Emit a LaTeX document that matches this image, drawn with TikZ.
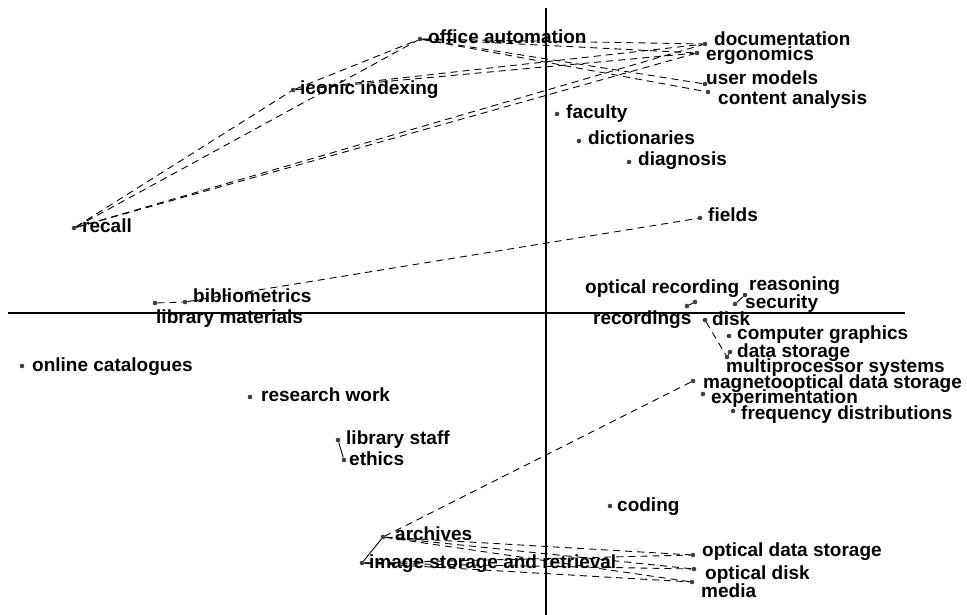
\documentclass[tikz,border=0pt]{standalone}
\usepackage{fontspec}
\setmainfont{Liberation Sans}
\begin{document}
\begin{tikzpicture}[x=1pt,y=-1pt,
  pt/.style={circle,fill=black!75,inner sep=0pt,minimum size=4.6pt},
  lbl/.style={anchor=base west,inner sep=0pt,font=\fontsize{19}{20}\selectfont\bfseries},
  link/.style={line width=0.9pt,dash pattern=on 7pt off 5pt},
  tie/.style={line width=0.9pt},
  axis/.style={line width=1.2pt}]
\useasboundingbox (0,0) rectangle (967,615);

% axes
\coordinate (vtop) at (546,8);
\coordinate (vbot) at (546,615);
\coordinate (hleft) at (8,313);
\coordinate (hright) at (905,313);
\draw[axis] (vtop) -- (vbot);
\draw[axis] (hleft) -- (hright);

% points
\node[pt] (office) at (420,39) {};
\node[pt] (iconic) at (293,90) {};
\node[pt] (recall) at (74,228) {};
\node[pt] (docu) at (705,44) {};
\node[pt] (ergo) at (697,53) {};
\node[pt] (umodels) at (705,84) {};
\node[pt] (content) at (708,92) {};
\node[pt] (faculty) at (557,114) {};
\node[pt] (dict) at (579,141) {};
\node[pt] (diag) at (629,162) {};
\node[pt] (fields) at (700,218) {};
\node[pt] (optrec) at (687,306) {};
\node[pt] (recs) at (695,302) {};
\node[pt] (reason) at (745,295) {};
\node[pt] (secur) at (735,304) {};
\node[pt] (biblio) at (185,302) {};
\node[pt] (libmat) at (155,303) {};
\node[pt] (disk) at (705,320) {};
\node[pt] (cgraph) at (729,336) {};
\node[pt] (dstore) at (730,352) {};
\node[pt] (mproc) at (727,357) {};
\node[pt] (online) at (22,366) {};
\node[pt] (research) at (250,397) {};
\node[pt] (magneto) at (693,381) {};
\node[pt] (experim) at (703,394) {};
\node[pt] (freq) at (733,411) {};
\node[pt] (libstaff) at (338,440) {};
\node[pt] (ethics) at (344,460) {};
\node[pt] (coding) at (610,506) {};
\node[pt] (archives) at (383,537) {};
\node[pt] (imgstore) at (362,563) {};
\node[pt] (ods) at (693,555) {};
\node[pt] (odisk) at (694,569) {};
\node[pt] (media) at (692,582) {};

% labels
\node[lbl] (officeL) at (428,44) {office automation};
\node[lbl] (iconicL) at (300,95) {iconic indexing};
\node[lbl] (recallL) at (82,232) {recall};
\node[lbl] (docuL) at (714,46) {documentation};
\node[lbl] (ergoL) at (706,61) {ergonomics};
\node[lbl] (umodelsL) at (706,85) {user models};
\node[lbl] (contentL) at (718,105) {content analysis};
\node[lbl] (facultyL) at (566,119) {faculty};
\node[lbl] (dictL) at (588,145) {dictionaries};
\node[lbl] (diagL) at (638,166) {diagnosis};
\node[lbl] (fieldsL) at (708,221) {fields};
\node[lbl] (optrecL) at (585,293) {optical recording};
\node[lbl] (reasonL) at (749,290) {reasoning};
\node[lbl] (securL) at (745,308) {security};
\node[lbl] (biblioL) at (193,302) {bibliometrics};
\node[lbl] (libmatL) at (156,323) {library materials};
\node[lbl] (recsL) at (593,324) {recordings};
\node[lbl] (diskL) at (712,325) {disk};
\node[lbl] (cgraphL) at (737,339) {computer graphics};
\node[lbl] (dstoreL) at (737,357) {data storage};
\node[lbl] (mprocL) at (726,372) {multiprocessor systems};
\node[lbl] (onlineL) at (32,371) {online catalogues};
\node[lbl] (magnetoL) at (703,388) {magnetooptical data storage};
\node[lbl] (experimL) at (711,403) {experimentation};
\node[lbl] (researchL) at (261,401) {research work};
\node[lbl] (freqL) at (741,419) {frequency distributions};
\node[lbl] (libstaffL) at (346,444) {library staff};
\node[lbl] (ethicsL) at (349,465) {ethics};
\node[lbl] (codingL) at (617,511) {coding};
\node[lbl] (archivesL) at (395,540) {archives};
\node[lbl] (imgstoreL) at (369,568) {image storage and retrieval};
\node[lbl] (odsL) at (702,556) {optical data storage};
\node[lbl] (odiskL) at (705,579) {optical disk};
\node[lbl] (mediaL) at (701,597) {media};

% connections
\draw[link] (recall) -- (iconic);
\draw[link] (recall) -- (office);
\draw[link] (iconic) -- (office);
\draw[link] (recall) -- (docu);
\draw[link] (recall) -- (ergo);
\draw[link] (iconic) -- (docu);
\draw[link] (iconic) -- (ergo);
\draw[link] (office) -- (docu);
\draw[link] (office) -- (ergo);
\draw[link] (office) -- (umodels);
\draw[link] (office) -- (content);
\draw[link] (libmat) -- (biblio);
\draw[link] (biblio) -- (fields);
\draw[tie] (optrec) -- (recs);
\draw[tie] (reason) -- (secur);
\draw[link] (disk) -- (mproc);
\draw[tie] (dstore) -- (mproc);
\draw[tie] (libstaff) -- (ethics);
\draw[link] (magneto) -- (archives);
\draw[tie] (archives) -- (imgstore);
\draw[link] (archives) -- (ods);
\draw[link] (archives) -- (odisk);
\draw[link] (archives) -- (media);
\draw[link] (imgstore) -- (ods);
\draw[link] (imgstore) -- (odisk);
\draw[link] (imgstore) -- (media);
\end{tikzpicture}
\end{document}
